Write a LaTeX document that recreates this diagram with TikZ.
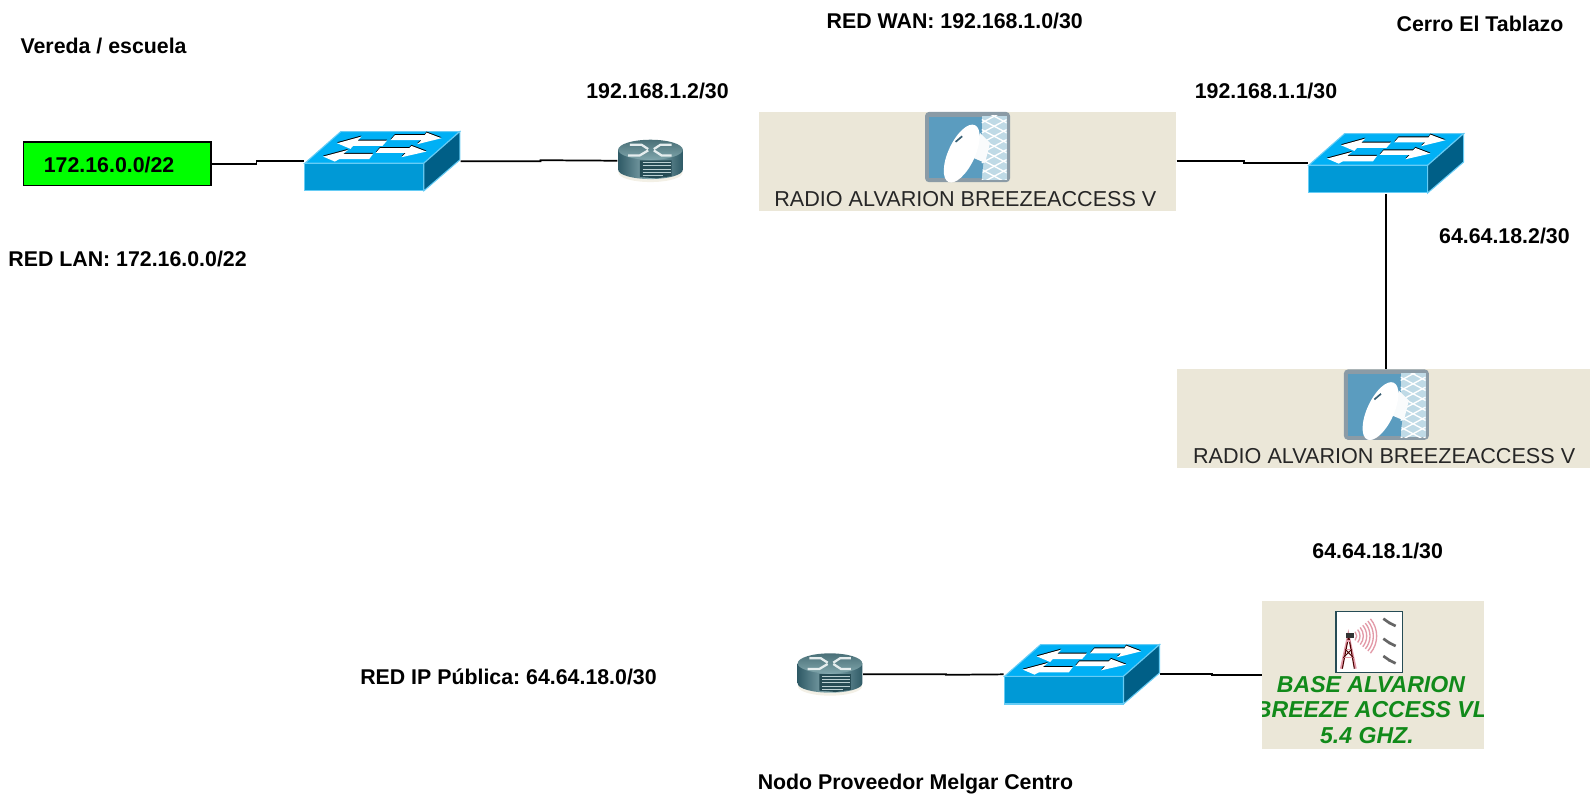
\documentclass[tikz,border=0pt]{standalone}
\usepackage{fontspec}
\setmainfont{Liberation Sans}
\definecolor{swfront}{HTML}{0099D6}
\definecolor{swtop}{HTML}{00B0F5}
\definecolor{swside}{HTML}{005F87}
\definecolor{swedge}{HTML}{66CCF5}
\definecolor{rtedge}{HTML}{2F5A66}
\definecolor{rtmid}{HTML}{8DB0B6}
\definecolor{rttop}{HTML}{7FA5AB}
\definecolor{rtdark}{HTML}{264C55}
\definecolor{rtshadow}{HTML}{F3F0E6}
\definecolor{panelbg}{HTML}{EBE7D8}
\definecolor{dishblue}{HTML}{5B9CBF}
\definecolor{dishframe}{HTML}{8B9BA6}
\definecolor{lattice}{HTML}{BFDAE6}
\definecolor{basegreen}{HTML}{118A1A}
\definecolor{lanfill}{HTML}{00FF00}
\definecolor{wavepink}{HTML}{E39AA8}
\tikzset{
  x=0.7605pt, y=-0.7605pt,
  lbl/.style={anchor=base west, inner sep=0pt, font=\fontsize{16}{18}\selectfont\bfseries},
  link/.style={draw=black, line width=1.3pt},
  swbox/.style={minimum width=154*0.7605pt, minimum height=60*0.7605pt, inner sep=0pt},
  rtbox/.style={minimum width=65*0.7605pt, minimum height=42*0.7605pt, inner sep=0pt},
  radiobox/.style={fill=panelbg, minimum width=412*0.7605pt, minimum height=98*0.7605pt, inner sep=0pt},
  basebox/.style={fill=panelbg, minimum width=218*0.7605pt, minimum height=146*0.7605pt, inner sep=0pt},
  lanbox/.style={draw=black, line width=1pt, fill=lanfill, minimum width=185*0.7605pt, minimum height=43*0.7605pt, inner sep=0pt},
  swicon/.pic={
    \begin{scope}[scale=0.3287, shift={(-307.5,-154)}]
      \draw[swedge, line width=0.8pt, fill=swfront] (75,160) rectangle (432,243);
      \draw[swedge, line width=0.8pt, fill=swtop] (75,160) -- (183,65) -- (540,65) -- (432,160) -- cycle;
      \draw[swedge, line width=0.8pt, fill=swside] (432,160) -- (540,65) -- (540,150) -- (432,243) -- cycle;
      \foreach \dy in {-3,0}{
        \ifnum\dy=0 \def\cc{white}\else \def\cc{black}\fi
        \fill[\cc] (172,100+\dy) -- (245,80+\dy) -- (233,92+\dy) -- (322,92+\dy) -- (308,108+\dy) -- (220,108+\dy) -- (212,117+\dy) -- cycle;
        \fill[\cc] (485,85+\dy) -- (440,68+\dy) -- (435,76+\dy) -- (345,76+\dy) -- (332,91+\dy) -- (425,91+\dy) -- (412,103+\dy) -- cycle;
        \fill[\cc] (130,140+\dy) -- (205,120+\dy) -- (190,132+\dy) -- (280,132+\dy) -- (268,148+\dy) -- (178,148+\dy) -- (165,155+\dy) -- cycle;
        \fill[\cc] (440,125+\dy) -- (395,108+\dy) -- (388,115+\dy) -- (300,115+\dy) -- (288,129+\dy) -- (378,129+\dy) -- (365,142+\dy) -- cycle;
      }
    \end{scope}
  },
  rticon/.pic={
    \begin{scope}[scale=0.3287, shift={(-1112,-151)}]
      \fill[rtshadow] (1112,187) ellipse [x radius=96, y radius=28];
      \shade[left color=rtedge, right color=rtedge, middle color=rtmid]
        (1015,118) -- (1015,178) arc[start angle=180, end angle=0, x radius=97, y radius=28] -- (1209,118) -- cycle;
      \shade[left color=rtdark!60!rttop, right color=rttop, shading angle=0] (1112,118) ellipse [x radius=97, y radius=30];
      \draw[white!80!rttop, line width=1.7pt] (1050,103) -- (1085,103) -- (1105,116);
      \draw[white!80!rttop, line width=1.7pt] (1175,103) -- (1142,103) -- (1122,116);
      \draw[white!80!rttop, line width=1.7pt] (1045,135) -- (1080,135) -- (1105,120);
      \draw[white!80!rttop, line width=1.7pt] (1175,135) -- (1145,135) -- (1122,120);
      \fill[rtdark] (1080,150) -- (1175,150) -- (1175,197) -- (1130,204) -- (1080,200) -- cycle;
      \foreach \yy/\xx in {156/1172,166/1172,176/1172,186/1172,195/1150}
        \draw[rtmid!60!white, line width=0.7pt] (1088,\yy) -- (\xx,\yy);
    \end{scope}
  },
  radioicon/.pic={
    \begin{scope}[scale=0.3287, shift={(-682,-185)}]
      \fill[dishframe, rounded corners=3pt] (555,37) rectangle (810,248);
      \fill[dishblue] (567,52) rectangle (725,236);
      \fill[lattice] (725,48) rectangle (800,240);
      \begin{scope}
        \clip (725,48) rectangle (800,240);
        \foreach \k in {0,...,7}{
          \draw[white, line width=1pt] (725,30+\k*30) -- (800,70+\k*30);
          \draw[white, line width=1pt] (800,30+\k*30) -- (725,70+\k*30);
        }
      \end{scope}
      \fill[white!90!lattice] (720,100) -- (750,130) -- (735,190) -- (700,175) -- cycle;
      \fill[white] (665,162) ellipse [x radius=40, y radius=94, rotate=-25];
      \fill[dishblue!60!black] (645,125) -- (665,108) -- (668,112) -- (648,129) -- cycle;
      \fill[dishblue] (690,215) -- (730,190) -- (725,236) -- (685,236) -- cycle;
    \end{scope}
    \node[anchor=base, inner sep=0pt, font=\fontsize{16.2}{18}\selectfont, text=black!85] at (-2,44.5) {RADIO ALVARION BREEZEACCESS V};
  },
  baseicon/.pic={
    \begin{scope}[scale=0.3287, shift={(-414,-268)}]
      \draw[rtdark, line width=1.1pt, fill=white] (303,77) rectangle (502,260);
      \foreach \r in {20,30,40,50,60,70,80}
        \draw[wavepink, line width=1pt] (345,150) ++(-40:\r) arc[start angle=-40, end angle=40, radius=\r];
      \draw[wavepink, line width=1.6pt] (318,248) -- (340,145) -- (362,248);
      \draw[black!70!red, line width=0.8pt] (322,248) -- (341,150) -- (358,248);
      \draw[wavepink, line width=1pt] (325,215) -- (355,215) (330,190) -- (350,190) (335,165) -- (346,165);
      \draw[black!70!red, line width=0.7pt] (325,215) -- (350,190) (355,215) -- (331,190);
      \fill[black!80] (332,142) rectangle (356,156);
      \foreach \yy in {110,170,222}{
        \draw[black!60, line width=2pt] (445,\yy-12) -- (465,\yy+2);
        \draw[black!60, line width=2pt] (462,\yy) -- (482,\yy+10);
      }
    \end{scope}
  }
}
\begin{document}
\begin{tikzpicture}
\useasboundingbox (0,0) rectangle (1568,785);
% nodes
\node[lanbox] (lan) at (115.5,161.5) {};
\node[lbl] (lantxt) at (43,170.5) {172.16.0.0/22};
\node[swbox] (sw1) at (377,159) {};
\node[rtbox] (r1) at (641.5,158.5) {};
\node[radiobox] (rad1) at (954,159) {};
\node[swbox] (sw2) at (1367,161) {};
\node[radiobox] (rad2) at (1367,413) {};
\node[basebox] (base) at (1354,666) {};
\node[swbox] (sw3) at (1067,665) {};
\node[rtbox] (r2) at (818.5,665) {};
% connectors
\draw[link] (lan.east) -- (253,161.5) -- (253,159) -- (sw1.west);
\draw[link] (sw1.east) -- (533,159) -- (533,158) -- (r1.west);
\draw[link] (rad1.east) -- (1227,159) -- (1227,161) -- (sw2.west);
\draw[link] (sw2.south) -- (rad2.north -| sw2.south);
\draw[link] (r2.east) -- (933,665) -- (933,665.5) -- (sw3.west);
\draw[link] (sw3.east) -- (1195,665) -- (1195,666) -- (base.west);
% icons
\pic at (sw1.center) {swicon};
\pic at (sw2.center) {swicon};
\pic at (sw3.center) {swicon};
\pic at (r1.center) {rticon};
\pic at (r2.center) {rticon};
\pic at (rad1.center) {radioicon};
\pic at (rad2.center) {radioicon};
\pic at (base.center) {baseicon};
\begin{scope}
  \clip (base.north west) rectangle (base.south east);
  \node[anchor=base, inner sep=0pt, text=basegreen, font=\fontsize{17.3}{20}\selectfont\bfseries\itshape] (b1) at (1352,682.5) {BASE ALVARION};
  \node[anchor=base, inner sep=0pt, text=basegreen, font=\fontsize{17.3}{20}\selectfont\bfseries\itshape] (b2) at (1352,707.5) {BREEZE ACCESS VL};
  \node[anchor=base, inner sep=0pt, text=basegreen, font=\fontsize{17.3}{20}\selectfont\bfseries\itshape] (b3) at (1348,733) {5.4 GHZ.};
\end{scope}
% labels
\node[lbl] (t1) at (20,52.5) {Vereda / escuela};
\node[lbl] (t2) at (815,28.5) {RED WAN: 192.168.1.0/30};
\node[lbl] (t3) at (1377,31.5) {Cerro El Tablazo};
\node[lbl] (t4) at (578,97.5) {192.168.1.2/30};
\node[lbl] (t5) at (1178,97.5) {192.168.1.1/30};
\node[lbl] (t6) at (1419,240.5) {64.64.18.2/30};
\node[lbl] (t7) at (8,262.5) {RED LAN: 172.16.0.0/22};
\node[lbl] (t8) at (1294,550.5) {64.64.18.1/30};
\node[lbl] (t9) at (355,675.5) {RED IP Pública:\ 64.64.18.0/30};
\node[lbl] (t10) at (747,778.5) {Nodo Proveedor Melgar Centro};
\end{tikzpicture}
\end{document}
